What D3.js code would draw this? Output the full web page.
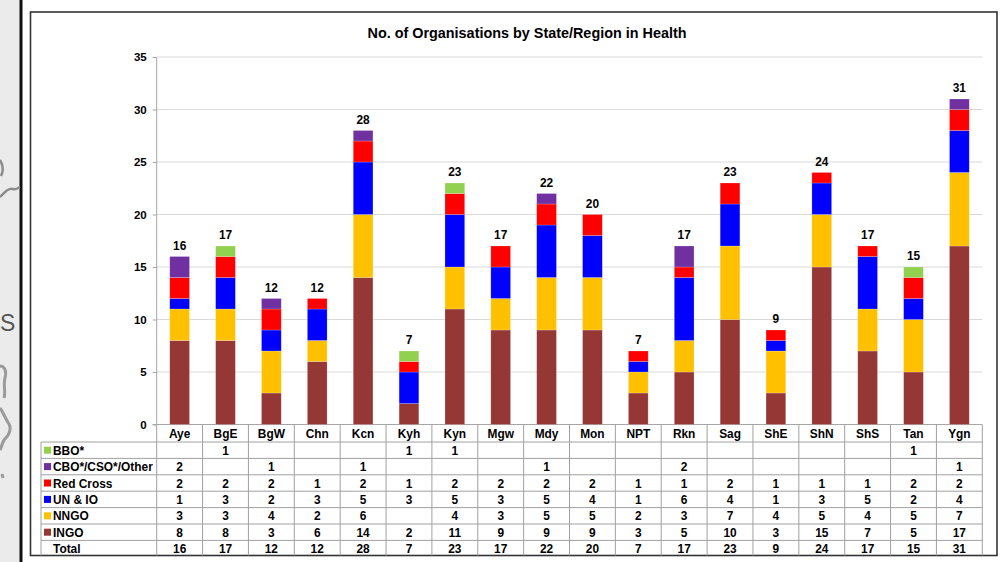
<!DOCTYPE html>
<html>
<head>
<meta charset="utf-8">
<script src="https://cdn.jsdelivr.net/npm/d3@7"></script>
<style>
  body { margin: 0; background: #fff; }
  svg { display: block; font-family: Arial, "Liberation Sans", sans-serif; }
  .grid line { stroke: #d9d9d9; }
  .axis path, .axis line { stroke: #a6a6a6; }
  .axis text { font-size: 11.5px; font-weight: bold; fill: #000; }
  .cell { font-size: 11.9px; font-weight: bold; fill: #000; }
</style>
</head>
<body>
<svg id="chart" width="1001" height="562"></svg>
<script>
const categories = ["Aye", "BgE", "BgW", "Chn", "Kcn", "Kyh", "Kyn", "Mgw", "Mdy", "Mon",
  "NPT", "Rkn", "Sag", "ShE", "ShN", "ShS", "Tan", "Ygn"];

// stacked from the bottom up
const seriesNames = ["INGO", "NNGO", "UN & IO", "Red Cross", "CBO*/CSO*/Other", "BBO*"];
const seriesColors = ["#953735", "#ffc000", "#0000ff", "#ff0000", "#7030a0", "#92d050"];

const ingo = [8, 8, 3, 6, 14, 2, 11, 9, 9, 9, 3, 5, 10, 3, 15, 7, 5, 17];
const nngo = [3, 3, 4, 2, 6, 0, 4, 3, 5, 5, 2, 3, 7, 4, 5, 4, 5, 7];
const unio = [1, 3, 2, 3, 5, 3, 5, 3, 5, 4, 1, 6, 4, 1, 3, 5, 2, 4];
const redCross = [2, 2, 2, 1, 2, 1, 2, 2, 2, 2, 1, 1, 2, 1, 1, 1, 2, 2];
const cbo = [2, 0, 1, 0, 1, 0, 0, 0, 1, 0, 0, 2, 0, 0, 0, 0, 0, 1];
const bbo = [0, 1, 0, 0, 0, 1, 1, 0, 0, 0, 0, 0, 0, 0, 0, 0, 1, 0];
const totals = [16, 17, 12, 12, 28, 7, 23, 17, 22, 20, 7, 17, 23, 9, 24, 17, 15, 31];

const yTicks = [0, 5, 10, 15, 20, 25, 30, 35];
const title = "No. of Organisations by State/Region in Health";

const seriesValues = [ingo, nngo, unio, redCross, cbo, bbo];

const svg = d3.select("#chart");

// page background strip on the left with bits of the slide behind
svg.append("rect").attr("x", 0).attr("y", 0).attr("width", 20).attr("height", 562).attr("fill", "#ebebeb");
svg.append("rect").attr("x", 19.5).attr("y", 0).attr("width", 3).attr("height", 562).attr("fill", "#111");
svg.append("path")
  .attr("d", "M0,197 C5,192 8,188 13,189 C16,190 18,188 20,187 M0,160 C3,165 4,170 1,176")
  .attr("fill", "none").attr("stroke", "#8c8c8c").attr("stroke-width", 2.5);
svg.append("text").attr("x", 0).attr("y", 331).attr("font-size", 23)
  .attr("fill", "#555").text("S");
svg.append("path")
  .attr("d", "M0,366 C4,366 7,370 5,378 C3,385 6,392 4,398 M0,408 C3,412 5,418 9,424 C12,430 8,436 4,440 C2,444 1,448 0,450 M2,474 L3,478")
  .attr("fill", "none").attr("stroke", "#9a9a9a").attr("stroke-width", 3);

// chart frame
svg.append("rect").attr("x", 30.5).attr("y", 12).attr("width", 966.5).attr("height", 543.5)
  .attr("fill", "#fff").attr("stroke", "#333").attr("stroke-width", 1.6);

svg.append("text")
  .attr("x", 527).attr("y", 38)
  .attr("text-anchor", "middle")
  .attr("font-size", 14.4).attr("font-weight", "bold")
  .text(title);

const x = d3.scaleBand().domain(categories).range([156.7, 982.3]).padding(0);
const y = d3.scaleLinear().domain([0, 35]).range([424.5, 57]);

// gridlines
svg.append("g").attr("class", "grid")
  .selectAll("line")
  .data(yTicks.slice(1))
  .join("line")
  .attr("x1", 156.7).attr("x2", 982.3)
  .attr("y1", d => y(d)).attr("y2", d => y(d));

// y axis
const yAxis = svg.append("g").attr("class", "axis")
  .attr("transform", "translate(156.7,0)")
  .call(d3.axisLeft(y).tickValues(yTicks).tickSize(4).tickSizeOuter(0).tickPadding(6));
yAxis.select(".domain").attr("d", `M0,${y(35)}V${y(0)}`);

// baseline
svg.append("line").attr("x1", 152.7).attr("x2", 982.3)
  .attr("y1", y(0)).attr("y2", y(0)).attr("stroke", "#a6a6a6");

// stacked bars
const rows = categories.map((c, i) => {
  const r = { cat: c };
  seriesNames.forEach((s, k) => { r[s] = seriesValues[k][i]; });
  return r;
});
const stacked = d3.stack().keys(seriesNames)(rows);
const barW = x.bandwidth() * 0.43;

svg.append("g")
  .selectAll("g")
  .data(stacked)
  .join("g")
  .attr("fill", (d, k) => seriesColors[k])
  .selectAll("rect")
  .data(d => d.filter(p => p[1] > p[0]))
  .join("rect")
  .attr("x", d => x(d.data.cat) + (x.bandwidth() - barW) / 2)
  .attr("width", barW)
  .attr("y", d => y(d[1]))
  .attr("height", d => y(d[0]) - y(d[1]))
  .attr("stroke", "rgba(255,255,255,0.35)")
  .attr("stroke-width", 0.6);

// totals above bars
svg.append("g")
  .selectAll("text")
  .data(categories)
  .join("text")
  .attr("class", "cell")
  .attr("font-size", 11.5)
  .attr("x", d => x(d) + x.bandwidth() / 2)
  .attr("y", (d, i) => y(totals[i]) - 7)
  .attr("text-anchor", "middle")
  .text((d, i) => totals[i]);

// data table
const tableTop = 424.5, headerBottom = 442, rowH = 16.4, tableBottom = 555.5;
const tableRows = seriesNames.slice().reverse().map((name, j) => ({
  name,
  color: seriesColors[seriesNames.length - 1 - j],
  values: seriesValues[seriesNames.length - 1 - j]
}));
tableRows.push({ name: "Total", color: null, values: totals });

const table = svg.append("g").attr("stroke", "#a0a0a0").attr("stroke-width", 1);

// vertical lines
table.selectAll(".vline")
  .data(categories.concat(["end"]))
  .join("line")
  .attr("x1", d => d === "end" ? x.range()[1] : x(d))
  .attr("x2", d => d === "end" ? x.range()[1] : x(d))
  .attr("y1", tableTop).attr("y2", tableBottom);
table.append("line").attr("x1", 41).attr("x2", 41).attr("y1", headerBottom).attr("y2", tableBottom);

// horizontal lines
table.selectAll(".hline")
  .data(d3.range(tableRows.length))
  .join("line")
  .attr("x1", 41).attr("x2", x.range()[1])
  .attr("y1", i => headerBottom + i * rowH).attr("y2", i => headerBottom + i * rowH);

// header labels
svg.append("g")
  .selectAll("text")
  .data(categories)
  .join("text")
  .attr("class", "cell")
  .attr("x", d => x(d) + x.bandwidth() / 2)
  .attr("y", (tableTop + headerBottom) / 2 + 4.5)
  .attr("text-anchor", "middle")
  .text(d => d);

const rowG = svg.append("g")
  .selectAll("g")
  .data(tableRows)
  .join("g")
  .attr("transform", (d, j) => `translate(0,${headerBottom + j * rowH + rowH / 2})`);

rowG.filter(d => d.color)
  .append("rect")
  .attr("x", 44).attr("y", -3.5).attr("width", 7).attr("height", 7)
  .attr("fill", d => d.color);

rowG.append("text")
  .attr("class", "cell")
  .attr("x", 53).attr("y", 4.5)
  .text(d => d.name);

rowG.selectAll(".val")
  .data(d => d.values.map((v, i) => ({ v, cat: categories[i] })))
  .join("text")
  .attr("class", "cell")
  .attr("x", d => x(d.cat) + x.bandwidth() / 2)
  .attr("y", 4.5)
  .attr("text-anchor", "middle")
  .text(d => d.v ? d.v : "");
</script>
</body>
</html>
